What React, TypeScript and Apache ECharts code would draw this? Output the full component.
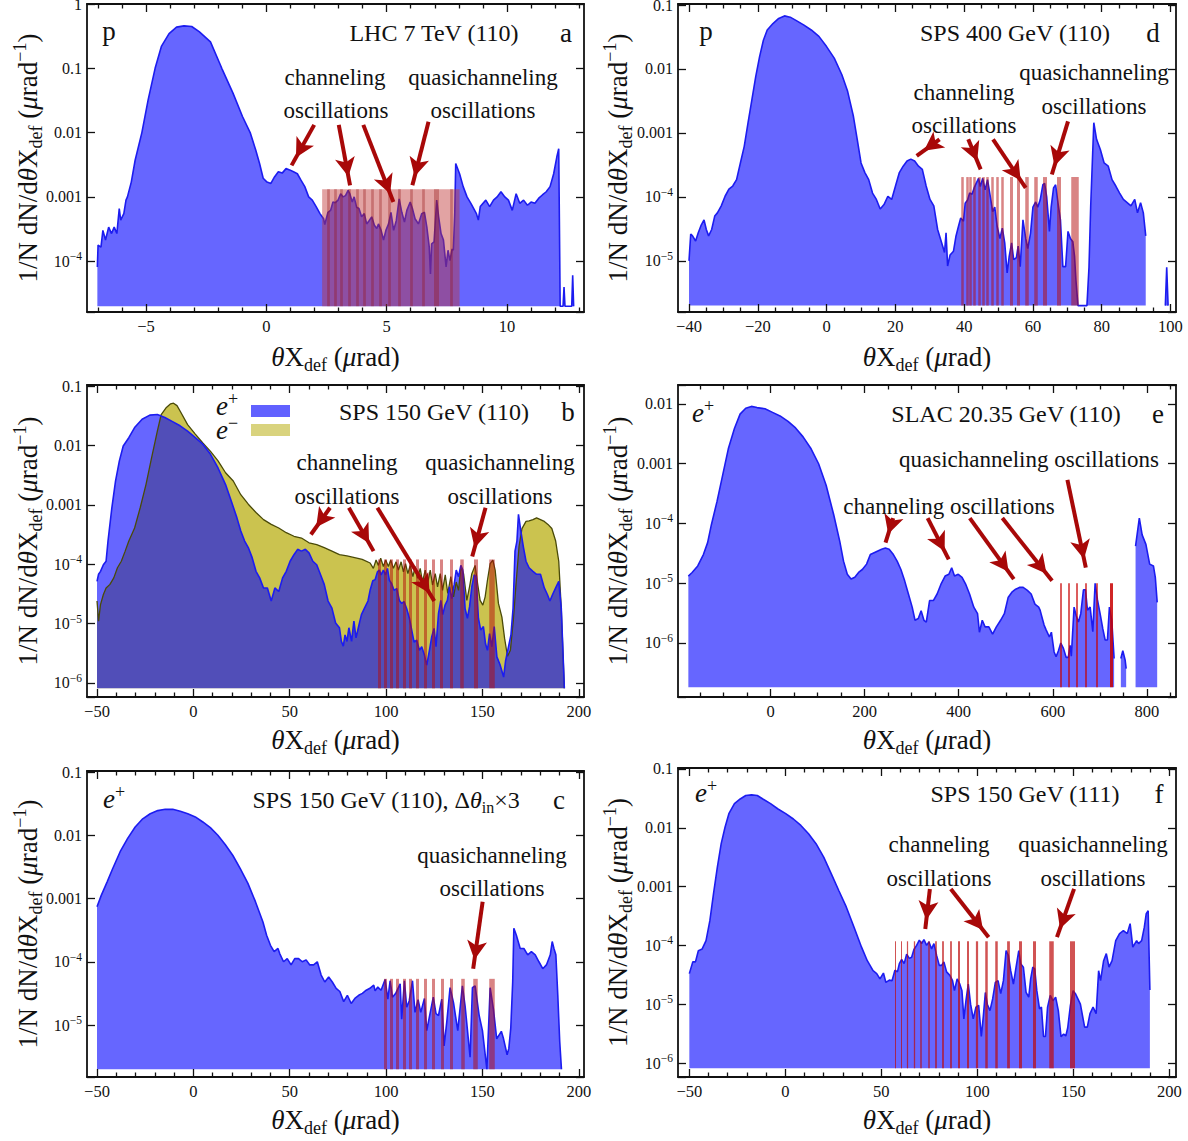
import React, { useEffect, useRef } from 'react';
import * as echarts from 'echarts';

// Each curve: [θX_def (μrad), log10 of 1/N dN/dθX_def (μrad⁻¹)]; null = gap
const lhcCurve = [[-7.02,-4.09],[-6.99,-3.75],[-6.87,-3.78],[-6.79,-3.52],[-6.68,-3.67],[-6.55,-3.47],[-6.43,-3.57],[-6.32,-3.47],[-6.21,-3.57],[-6.11,-3.18],[-6.05,-3.36],[-5.92,-3.26],[-5.83,-3.05],[-5.77,-3.00],[-5.61,-2.77],[-5.45,-2.43],[-5.17,-2.00],[-4.91,-1.49],[-4.62,-1.00],[-4.36,-0.66],[-4.04,-0.46],[-3.73,-0.36],[-3.42,-0.34],[-3.10,-0.35],[-2.79,-0.43],[-2.32,-0.59],[-1.85,-1.00],[-1.38,-1.39],[-0.99,-1.75],[-0.67,-2.00],[-0.44,-2.27],[-0.28,-2.48],[-0.13,-2.71],[0.03,-2.77],[0.19,-2.79],[0.34,-2.69],[0.50,-2.61],[0.66,-2.63],[0.82,-2.56],[0.97,-2.58],[1.13,-2.61],[1.29,-2.64],[1.44,-2.74],[1.60,-2.84],[1.76,-3.00],[1.91,-3.05],[2.07,-3.15],[2.23,-3.26],[2.38,-3.34],[2.43,-3.43],[2.56,-3.24],[2.67,-3.21],[2.77,-3.08],[2.87,-3.09],[2.98,-3.05],[3.09,-2.95],[3.19,-3.00],[3.29,-2.98],[3.40,-2.90],[3.47,-2.95],[3.57,-3.08],[3.65,-3.00],[3.75,-3.16],[3.85,-3.18],[3.96,-3.31],[4.07,-3.26],[4.17,-3.42],[4.27,-3.37],[4.38,-3.31],[4.49,-3.44],[4.59,-3.49],[4.66,-3.42],[4.77,-3.52],[4.87,-3.67],[4.97,-3.52],[5.08,-3.42],[5.18,-3.24],[5.29,-3.52],[5.40,-3.37],[5.52,-3.03],[5.63,-3.24],[5.74,-3.39],[5.84,-3.21],[5.98,-3.08],[6.07,-3.18],[6.18,-3.34],[6.32,-3.42],[6.46,-3.26],[6.57,-3.24],[6.67,-3.47],[6.77,-3.78],[6.82,-4.20],[6.87,-3.73],[6.97,-3.70],[7.08,-3.05],[7.16,-3.31],[7.26,-3.57],[7.36,-3.67],[7.47,-4.09],[7.55,-3.83],[7.63,-3.99],[7.72,-3.81],[7.77,-3.83],[7.83,-3.26],[7.87,-2.48],[8.03,-2.64],[8.18,-2.84],[8.34,-3.00],[8.50,-3.10],[8.73,-3.26],[8.81,-3.36],[8.89,-3.15],[9.12,-3.05],[9.28,-3.15],[9.44,-3.05],[9.59,-3.00],[9.75,-2.92],[9.91,-3.00],[10.06,-3.05],[10.22,-3.21],[10.38,-2.95],[10.53,-3.10],[10.69,-3.05],[10.85,-3.13],[11.00,-3.08],[11.16,-3.10],[11.32,-3.02],[11.47,-2.97],[11.63,-2.92],[11.79,-2.84],[11.94,-2.64],[12.07,-2.38],[12.15,-2.25],[12.21,-4.70],[12.33,-4.70],[12.37,-4.40],[12.41,-4.70],[12.69,-4.70],[12.73,-4.22],[12.77,-4.70]];

const sps400Curve = [[-40,-5.0],[-39.5,-4.58],[-38.98,-4.61],[-38.08,-4.69],[-37.31,-4.56],[-36.53,-4.45],[-35.63,-4.36],[-34.97,-4.51],[-34.30,-4.61],[-33.41,-4.51],[-32.52,-4.30],[-31.74,-4.25],[-30.62,-4.14],[-29.51,-3.99],[-28.40,-3.88],[-27.28,-3.83],[-26.17,-3.73],[-25.06,-3.47],[-23.94,-3.21],[-22.83,-2.84],[-21.71,-2.48],[-20.60,-2.12],[-19.49,-1.81],[-18.37,-1.55],[-17.26,-1.39],[-15.59,-1.29],[-13.92,-1.21],[-12.25,-1.17],[-10.58,-1.19],[-8.91,-1.24],[-6.68,-1.31],[-4.45,-1.39],[-2.23,-1.49],[0,-1.65],[2.23,-1.83],[4.45,-2.09],[6.12,-2.35],[7.80,-2.74],[8.91,-3.10],[10.02,-3.47],[11.14,-3.62],[12.25,-3.73],[13.36,-3.94],[14.48,-4.04],[15.59,-4.19],[16.70,-4.12],[17.82,-3.99],[18.93,-4.04],[20.04,-3.83],[21.16,-3.62],[22.27,-3.52],[23.39,-3.44],[24.50,-3.41],[25.61,-3.44],[26.73,-3.52],[27.84,-3.57],[28.95,-3.83],[30.07,-4.04],[31.18,-4.14],[32.29,-4.51],[33.41,-4.71],[34.30,-4.87],[34.74,-4.56],[35.19,-5.08],[35.9,-4.91],[36.9,-4.85],[37.6,-4.62],[38.3,-4.47],[39.0,-4.33],[39.8,-4.38],[40.3,-4.10],[41.0,-4.05],[41.6,-3.94],[42.3,-3.96],[42.9,-3.86],[43.5,-3.79],[44.2,-3.71],[44.7,-3.84],[45.4,-3.71],[46.1,-3.89],[46.8,-3.73],[47.5,-3.96],[48.3,-4.23],[48.9,-4.16],[49.6,-4.46],[50.4,-4.65],[51.1,-4.49],[51.8,-4.72],[52.5,-5.19],[53.1,-4.93],[53.8,-4.72],[54.4,-4.98],[55.2,-4.95],[55.7,-4.77],[56.3,-5.09],[57.1,-4.36],[57.9,-4.65],[58.5,-4.81],[59.3,-4.57],[60.0,-4.16],[60.8,-4.08],[61.4,-4.16],[62.1,-4.05],[62.9,-3.81],[63.4,-3.79],[64.0,-4.00],[64.8,-4.54],[65.3,-4.16],[66.0,-3.86],[66.6,-3.81],[67.3,-4.10],[68.0,-4.36],[68.7,-5.09],[69.5,-5.09],[70.2,-4.54],[70.9,-4.65],[71.6,-4.70],[72.1,-4.93],[72.5,-5.30],[73.1,-5.70],[75.7,-5.70],[76.3,-5.10],[76.8,-4.14],[77.7,-2.84],[78.5,-3.10],[79.6,-3.26],[80.7,-3.47],[81.9,-3.52],[83.0,-3.73],[84.1,-3.83],[85.2,-3.94],[86.3,-4.04],[87.4,-4.09],[88.5,-4.14],[89.6,-4.04],[90.4,-4.25],[91.3,-4.09],[92.1,-4.25],[92.8,-4.61],[95,null],[98.5,-5.70],[98.9,-5.10],[99.3,-5.70]];

const sps150PositronCurve = [[-50,-4.29],[-49.2,-4.17],[-48.2,-4.12],[-46.7,-4.01],[-45.3,-3.95],[-44.3,-3.61],[-42.3,-3.05],[-40.4,-2.60],[-38.4,-2.26],[-36.4,-2.01],[-33.5,-1.87],[-30.5,-1.70],[-26.6,-1.56],[-22.6,-1.49],[-18.7,-1.48],[-14.8,-1.53],[-10.8,-1.60],[-6.9,-1.67],[-3.0,-1.76],[1.0,-1.87],[4.9,-1.98],[8.9,-2.15],[12.8,-2.38],[16.7,-2.66],[19.7,-2.94],[22.6,-3.22],[24.6,-3.44],[26.6,-3.61],[28.5,-3.72],[30.5,-3.89],[32.5,-4.12],[34.4,-4.23],[36.4,-4.40],[38.4,-4.40],[40.4,-4.62],[42.3,-4.40],[44.3,-4.46],[46.3,-4.23],[48.2,-4.12],[50.2,-3.95],[52.2,-3.84],[54.1,-3.75],[56.1,-3.78],[58.1,-3.75],[60.0,-3.81],[62.0,-3.95],[64.0,-4.01],[65.9,-4.17],[67.9,-4.34],[69.9,-4.62],[71.9,-4.74],[73.8,-4.99],[75.8,-5.07],[76.8,-5.30],[77.8,-5.38],[78.7,-5.19],[79.7,-5.30],[80.7,-5.07],[82.1,-5.30],[83.3,-4.96],[84.4,-5.24],[85.6,-5.07],[87.2,-4.85],[88.8,-4.74],[90.6,-4.62],[91.7,-4.44],[93.1,-4.28],[94.3,-4.26],[95.5,-4.13],[96.5,-4.10],[97.4,-4.18],[98.6,-4.10],[99.7,-4.18],[100.7,-4.07],[101.7,-4.27],[102.9,-4.33],[104.1,-4.44],[105.5,-4.41],[106.9,-4.61],[108.1,-4.66],[109.3,-4.63],[110.7,-4.75],[112.1,-4.91],[113.3,-5.11],[114.5,-5.31],[115.9,-5.28],[117.3,-5.45],[118.5,-5.39],[119.9,-5.53],[121.1,-5.70],[122.5,-5.45],[123.7,-5.22],[124.9,-5.08],[125.9,-5.39],[127.2,-4.83],[128.4,-4.61],[129.4,-4.85],[130.6,-4.69],[131.8,-4.61],[132.9,-4.38],[134.1,-4.58],[135.3,-4.35],[136.4,-4.10],[137.6,-4.21],[138.8,-4.02],[139.8,-4.10],[141.0,-4.75],[142.2,-4.91],[143.3,-4.72],[144.5,-4.38],[145.7,-4.18],[146.7,-4.21],[147.9,-4.91],[149.1,-5.11],[150.5,-5.05],[151.6,-5.34],[152.6,-5.45],[153.7,-5.17],[154.9,-5.39],[156.1,-5.05],[157.5,-5.56],[159.2,-5.70],[161.0,-5.90],[162.0,-5.63],[163.4,-5.41],[164.8,-5.19],[165.9,-4.74],[166.9,-3.78],[167.9,-3.61],[168.7,-3.16],[169.9,-3.44],[171.3,-3.72],[172.6,-3.95],[174.2,-4.06],[176.2,-4.12],[178.1,-4.17],[180.1,-4.17],[182.1,-4.40],[183.7,-4.51],[185.0,-4.62],[186.4,-4.51],[188.0,-4.40],[189.6,-4.29],[190.9,-4.74],[191.9,-5.58],[192.5,-6.09]];

const sps150ElectronCurve = [[-50,-4.62],[-49.2,-4.96],[-48.2,-4.68],[-46.7,-4.51],[-45.3,-4.40],[-43.3,-4.34],[-41.3,-4.23],[-39.4,-4.06],[-37.4,-3.95],[-35.4,-3.78],[-33.5,-3.61],[-30.5,-3.39],[-27.6,-3.05],[-24.6,-2.66],[-21.7,-2.21],[-18.7,-1.76],[-16.7,-1.48],[-14.0,-1.36],[-11.8,-1.30],[-10.3,-1.29],[-8.5,-1.33],[-6.9,-1.42],[-3.0,-1.65],[1.0,-1.81],[4.9,-1.96],[8.9,-2.10],[12.8,-2.26],[16.7,-2.46],[20.7,-2.60],[24.6,-2.83],[28.5,-2.99],[32.5,-3.13],[36.4,-3.25],[40.4,-3.33],[44.3,-3.39],[48.2,-3.47],[52.2,-3.53],[56.1,-3.56],[60.0,-3.64],[64.0,-3.67],[67.9,-3.72],[71.9,-3.78],[75.8,-3.84],[79.7,-3.86],[83.7,-3.89],[87.6,-3.92],[91.7,-3.98],[93.4,-4.07],[94.8,-3.93],[96.0,-4.02],[97.2,-3.90],[98.6,-4.04],[99.8,-3.93],[101.2,-4.04],[102.4,-3.93],[103.8,-4.07],[105.2,-3.96],[106.4,-4.10],[107.8,-3.96],[109.0,-4.13],[110.1,-3.99],[111.3,-4.16],[112.5,-4.02],[113.9,-4.21],[115.1,-4.04],[116.3,-4.24],[117.7,-4.07],[118.9,-4.30],[120.3,-4.10],[121.5,-4.33],[122.9,-4.10],[124.1,-4.35],[125.5,-4.16],[126.7,-4.38],[128.1,-4.16],[129.3,-4.44],[130.7,-4.18],[132.0,-4.49],[133.6,-4.21],[135.0,-4.55],[136.4,-4.30],[137.6,-4.44],[138.8,-4.04],[140.2,-4.16],[141.9,-4.61],[143.3,-4.38],[144.5,-4.16],[146.2,-4.02],[147.5,-4.33],[148.8,-4.61],[150.2,-4.69],[151.4,-4.55],[152.6,-4.27],[154.0,-3.99],[155.4,-3.93],[156.6,-4.10],[158.3,-4.66],[160.1,-4.89],[161.5,-5.25],[163.0,-5.55],[164.5,-5.45],[166.0,-4.95],[167.5,-4.30],[169.0,-3.70],[170.5,-3.40],[172.6,-3.28],[174.2,-3.27],[176.2,-3.25],[178.1,-3.22],[180.1,-3.25],[182.1,-3.28],[184.0,-3.33],[186.0,-3.40],[188.0,-3.61],[189.6,-3.95],[190.9,-4.74],[191.9,-5.58],[192.5,-6.09]];

const sps150WideCurve = [[-50,-3.13],[-47.8,-2.95],[-44.8,-2.74],[-41.9,-2.53],[-38.0,-2.26],[-34.1,-2.05],[-30.2,-1.87],[-26.3,-1.74],[-22.4,-1.66],[-18.5,-1.61],[-14.6,-1.59],[-10.7,-1.59],[-6.8,-1.62],[-2.9,-1.66],[1.0,-1.71],[4.9,-1.79],[8.8,-1.88],[12.7,-2.00],[16.6,-2.15],[20.5,-2.32],[24.4,-2.53],[28.3,-2.76],[32.2,-3.05],[36.1,-3.37],[38.0,-3.58],[40.0,-3.74],[41.9,-3.84],[43.9,-3.79],[44.8,-3.87],[46.8,-4.00],[48.7,-3.95],[50.7,-4.05],[52.6,-3.95],[54.6,-3.95],[56.5,-4.00],[58.5,-3.97],[60.4,-4.05],[62.4,-4.05],[64.3,-4.00],[66.3,-4.21],[68.2,-4.32],[70.2,-4.24],[72.1,-4.32],[74.1,-4.42],[76.0,-4.47],[78.0,-4.63],[79.9,-4.53],[81.9,-4.66],[83.8,-4.58],[85.8,-4.53],[87.7,-4.50],[89.7,-4.45],[91.6,-4.42],[93.6,-4.37],[94.3,-4.46],[95.7,-4.40],[97.4,-4.45],[99.5,-4.28],[100.9,-4.59],[102.1,-4.30],[103.3,-4.56],[105.0,-4.50],[107.3,-4.35],[108.1,-4.91],[109.5,-4.30],[110.7,-4.72],[112.0,-4.62],[113.7,-4.30],[115.0,-4.80],[116.6,-4.60],[118.0,-4.80],[119.9,-4.58],[121.1,-5.09],[122.8,-4.82],[124.5,-4.56],[125.9,-4.82],[127.2,-4.85],[128.9,-4.59],[130.1,-5.33],[131.5,-4.95],[133.2,-4.41],[135.0,-4.65],[137.2,-5.09],[139.6,-4.38],[141.0,-4.70],[143.6,-5.51],[144.8,-4.41],[146.2,-4.38],[148.3,-4.85],[150.0,-5.09],[152.3,-5.70],[154.0,-4.41],[155.7,-4.75],[157.4,-5.22],[159.8,-5.10],[160.8,-5.20],[162.8,-5.47],[163.7,-5.37],[164.7,-5.05],[165.7,-4.32],[166.3,-3.47],[167.6,-3.58],[169.6,-3.79],[171.5,-3.79],[173.5,-3.89],[175.4,-3.84],[177.4,-3.89],[179.3,-4.00],[181.3,-4.11],[183.2,-4.05],[185.2,-3.89],[186.2,-3.68],[187.1,-3.79],[188.1,-3.89],[189.1,-4.53],[190.1,-5.26],[191.0,-5.70]];

const slacCurve = [[-175,-4.88],[-167,-4.82],[-155,-4.71],[-143,-4.52],[-134,-4.32],[-126,-4.02],[-114,-3.63],[-102,-3.19],[-90,-2.75],[-77,-2.41],[-65,-2.17],[-53,-2.07],[-41,-2.04],[-29,-2.06],[-12,-2.08],[4,-2.14],[20,-2.20],[37,-2.29],[53,-2.40],[69,-2.55],[86,-2.75],[102,-3.00],[118,-3.36],[134,-3.85],[147,-4.30],[155,-4.63],[163,-4.85],[171,-4.93],[179,-4.90],[187,-4.82],[195,-4.77],[204,-4.68],[212,-4.52],[220,-4.49],[228,-4.46],[236,-4.43],[244,-4.41],[252,-4.43],[261,-4.52],[269,-4.63],[277,-4.77],[285,-4.96],[293,-5.18],[301,-5.40],[307,-5.62],[314,-5.59],[320,-5.46],[326,-5.62],[331,-5.65],[338,-5.29],[346,-5.29],[354,-5.18],[362,-5.02],[371,-4.88],[379,-4.85],[385,-4.74],[391,-4.88],[399,-4.85],[407,-4.90],[415,-5.02],[423,-5.18],[432,-5.40],[440,-5.51],[444,-5.82],[450,-5.62],[456,-5.73],[464,-5.73],[472,-5.85],[480,-5.73],[489,-5.62],[497,-5.51],[505,-5.24],[513,-5.15],[521,-5.10],[529,-5.07],[537,-5.07],[546,-5.12],[554,-5.18],[562,-5.35],[570,-5.40],[573,-5.45],[578.7,-5.62],[581.5,-5.70],[585.8,-5.78],[592.8,-5.90],[597,-5.82],[602.8,-6.15],[607,-6.23],[612,-6.13],[617,-6.00],[622.6,-6.09],[628.3,-6.24],[633,-6.24],[636.8,-6.04],[639.4,-6.22],[645.3,-5.40],[649.6,-5.54],[654.5,-5.65],[659.5,-5.51],[665.2,-5.11],[669.5,-5.11],[673.7,-5.45],[679.4,-5.40],[685.1,-5.81],[690,-5.00],[695,-5.28],[700.6,-5.51],[706.3,-5.76],[711.3,-5.95],[716.2,-5.95],[720.4,-5.40],[725.4,-5.62],[730.4,-6.26],[738,null],[744.7,-6.26],[748.9,-6.13],[753.9,-6.29],[756,-6.43],[765,null],[776,-4.38],[784,-3.91],[790,-4.19],[798,-4.35],[806,-4.68],[814,-4.71],[818,-4.90],[822,-5.32]];

const sps111Curve = [[-50,-4.48],[-48.2,-4.28],[-46.8,-4.28],[-45.3,-4.09],[-43.3,-4.06],[-41.3,-3.92],[-39.3,-3.58],[-37.4,-3.12],[-35.4,-2.67],[-33.4,-2.27],[-31.4,-1.99],[-29.4,-1.76],[-26.5,-1.59],[-23.5,-1.51],[-20.6,-1.45],[-17.6,-1.44],[-14.6,-1.45],[-11.7,-1.51],[-7.7,-1.59],[-3.8,-1.68],[0.2,-1.76],[4.2,-1.85],[8.1,-1.96],[12.1,-2.10],[16.0,-2.27],[20.0,-2.50],[23.9,-2.78],[27.9,-3.07],[31.8,-3.35],[35.8,-3.69],[39.7,-4.03],[42.7,-4.26],[45.7,-4.43],[47.6,-4.48],[49.3,-4.57],[51.1,-4.47],[52.4,-4.63],[54.2,-4.59],[55.6,-4.60],[57.1,-4.42],[58.4,-4.45],[59.4,-4.31],[60.6,-4.24],[61.9,-4.31],[63.2,-4.15],[64.6,-4.22],[65.8,-4.20],[67.0,-4.07],[68.4,-4.00],[69.8,-3.91],[71.0,-3.97],[72.2,-3.90],[73.6,-4.00],[74.8,-3.94],[76.2,-4.06],[77.4,-3.97],[78.8,-4.17],[80.2,-4.34],[81.4,-4.34],[82.6,-4.28],[84.0,-4.45],[85.7,-4.51],[87.1,-4.60],[88.1,-4.77],[89.5,-4.57],[90.9,-4.66],[92.0,-4.77],[93.0,-5.25],[94.1,-4.94],[95.3,-4.66],[96.5,-5.00],[97.9,-5.25],[99.3,-5.05],[100.7,-5.02],[102.1,-5.55],[103.1,-5.22],[104.2,-4.80],[105.2,-5.00],[106.6,-5.11],[108.0,-4.91],[109.4,-4.63],[110.8,-4.60],[112.2,-4.82],[113.6,-4.60],[115.0,-4.09],[116.2,-4.17],[117.4,-4.43],[118.8,-4.66],[120.2,-4.37],[121.6,-4.09],[122.6,-4.31],[124.0,-4.37],[125.4,-4.80],[126.8,-4.88],[127.8,-4.57],[128.9,-4.37],[129.9,-4.40],[131.0,-4.77],[132.4,-5.08],[133.4,-5.05],[134.5,-5.55],[135.5,-5.55],[136.6,-5.05],[138.0,-4.85],[139.4,-4.94],[140.8,-4.88],[142.2,-5.11],[143.6,-5.55],[145.0,-5.51],[146.1,-5.54],[147.1,-5.40],[148.5,-5.02],[149.9,-4.77],[151.1,-4.82],[152.4,-4.91],[153.7,-5.00],[155.9,-5.39],[157.3,-5.39],[158.7,-5.16],[160.3,-5.05],[161.9,-5.16],[163.2,-4.43],[164.2,-4.60],[165.8,-4.26],[167.2,-4.14],[168.6,-4.37],[170.2,-4.26],[172.1,-3.92],[174.1,-3.80],[176.1,-3.75],[178.1,-3.80],[179.6,-3.63],[181.0,-4.03],[183.0,-3.92],[184.0,-3.97],[185.6,-3.92],[187.0,-3.69],[188.0,-3.46],[189.0,-3.41],[189.9,-4.76]];

// Oscillation marker lines: positions (μrad) and the log10 height they reach
const lhcStripeX = [2.59, 2.87, 3.12, 3.45, 3.78, 4.09, 4.41, 4.75, 5.12, 5.53, 6.02, 6.54, 7.08, 7.68];
const lhcBandX = [2.32, 8.03];
const lhcStripeTop = -2.88;
const sps400StripeX = [39.5, 40.8, 41.9, 43.0, 44.3, 45.6, 46.7, 48.2, 49.6, 51.2, 53.7, 55.7, 58.2, 60.9, 63.5, 67.5, 72.3];
const sps400StripeTop = -3.69;
const sps150StripeX = [96.5, 99.5, 102.6, 105.7, 109.2, 112.6, 116.4, 120.4, 124.4, 128.7, 133.8, 139.5, 146.4, 154.9];
const sps150StripeTop = -3.92;
const sps150WideStripeX = [99.5, 102.6, 105.7, 109.2, 112.6, 116.4, 120.4, 124.6, 129.1, 134.0, 139.9, 146.3, 154.9];
const sps150WideStripeTop = -4.27;
const slacStripeX = [617, 633, 650, 670, 694, 724];
const slacStripeTop = -5.0;
const sps111StripeX = [57.3, 60.4, 63.7, 67.2, 70.8, 74.7, 78.3, 82.1, 86.1, 90.5, 95.2, 99.7, 104.9, 110.1, 116.0, 122.6, 129.9, 138.5, 149.7];
const sps111StripeTop = -3.93;

// Annotation arrows: [[from θ, from log10], [to θ, to log10]]
const lhcArrows = [[[1.99,-1.88],[1.05,-2.51]],[[3.01,-1.88],[3.48,-2.82]],[[4.03,-1.88],[5.28,-3.08]],[[6.74,-1.83],[6.07,-2.82]]];
const sps400Arrows = [[[32.85,-3.10],[26.2,-3.36]],[[41.2,-3.10],[44.8,-3.57]],[[48.4,-3.10],[57.9,-3.86]],[[70.2,-2.82],[65.5,-3.65]]];
const sps150Arrows = [[[70.9,-3.05],[61.0,-3.50]],[[80.7,-3.05],[93.5,-3.78]],[[95.5,-3.05],[125.0,-4.62]],[[151.6,-3.05],[144.7,-3.87]]];
const slacArrows = [[[260.6,-3.91],[244.3,-4.32]],[[333.9,-3.91],[378.7,-4.60]],[[423.5,-3.91],[517.1,-4.93]],[[492.7,-3.91],[598.5,-4.96]],[[631.1,-3.27],[670.2,-4.74]]];
const sps150WideArrows = [[[150.1,-3.05],[145.2,-4.11]]];
const sps111Arrows = [[[75.3,-3.04],[72.9,-3.72]],[[86.2,-3.04],[105.9,-3.86]],[[150.4,-3.04],[141.5,-3.86]]];

// Tick labels
const lhcTicks = [-5, 0, 5, 10];
const lhcMinorTicks = [-7, -6, -4, -3, -2, -1, 1, 2, 3, 4, 6, 7, 8, 9, 11, 12, 13];
const sps400Ticks = [-40, -20, 0, 20, 40, 60, 80, 100];
const sps400MinorTicks = [-35, -30, -25, -15, -10, -5, 5, 10, 15, 25, 30, 35, 45, 50, 55, 65, 70, 75, 85, 90, 95];
const sps150Ticks = [-50, 0, 50, 100, 150, 200];
const sps150MinorTicks = [-40, -30, -20, -10, 10, 20, 30, 40, 60, 70, 80, 90, 110, 120, 130, 140, 160, 170, 180, 190];
const slacTicks = [0, 200, 400, 600, 800];
const slacMinorTicks = [-150, -100, -50, 50, 100, 150, 250, 300, 350, 450, 500, 550, 650, 700, 750, 850];

// ---- styles / layout ----
const FONT = '"Liberation Serif", "Times New Roman", Times, serif';
const INK = '#111111';
const BLUE_LINE = '#1c1cf0';
const BLUE_FILL = 'rgba(0,0,255,0.6)';
const YELLOW_LINE = '#4a4a08';
const YELLOW_FILL = 'rgba(185,175,20,0.75)';
const ARROW = '#a80808';
const ANN = 23;   // annotation font size
const TTL = 24;   // panel title font size

const PANELS = [
  { grid: { left: 87, top: 4, width: 497, height: 308 }, x: [-7.45, 13.2], y: [-4.79, 0], base: -4.70, gapX: 28, gapY: 42,
    curves: [lhcCurve], stripes: lhcStripeX, stripeTop: lhcStripeTop, stripeW: [2.7,2.7,2.7,2.7,2.7,2.7,2.7,2.7,2.7,2.7,2.7,2.7,5,2.7],
    stripeColor: 'rgba(150,20,20,0.35)', band: lhcBandX, arrows: lhcArrows, major: lhcTicks, minor: lhcMinorTicks },
  { grid: { left: 678, top: 4, width: 498, height: 308 }, x: [-43.2, 101.6], y: [-5.80, -0.984], base: -5.70, gapX: 28, gapY: 43,
    curves: [sps400Curve], stripes: sps400StripeX, stripeTop: sps400StripeTop, stripeW: [2.5,2.5,2.5,2.5,2.5,2.5,2.5,2.5,2.5,2.5,3,3,3.5,3.5,4,4,7.5],
    stripeColor: 'rgba(180,10,10,0.5)', band: null, arrows: sps400Arrows, major: sps400Ticks, minor: sps400MinorTicks },
  { grid: { left: 87, top: 385, width: 497, height: 312 }, x: [-55.2, 202.7], y: [-6.236, -0.983], base: -6.09, gapX: 26, gapY: 42,
    curves: [sps150ElectronCurve, sps150PositronCurve], stripes: sps150StripeX, stripeTop: sps150StripeTop, stripeW: [3,3,3,3,3,3,3,3,3,3,3,3.5,4,5.5],
    stripeColor: 'rgba(180,10,10,0.5)', band: null, arrows: sps150Arrows, major: sps150Ticks, minor: sps150MinorTicks },
  { grid: { left: 678, top: 385, width: 498, height: 312 }, x: [-197, 862], y: [-6.904, -1.682], base: -6.74, gapX: 26, gapY: 43,
    curves: [slacCurve], stripes: slacStripeX, stripeTop: slacStripeTop, stripeW: [1.5,1.5,1.5,1.5,1.5,3],
    stripeColor: 'rgba(200,0,0,0.85)', band: null, arrows: slacArrows, major: slacTicks, minor: slacMinorTicks },
  { grid: { left: 87, top: 771, width: 497, height: 306 }, x: [-55.2, 202.7], y: [-5.822, -0.984], base: -5.70, gapX: 26, gapY: 42,
    curves: [sps150WideCurve], stripes: sps150WideStripeX, stripeTop: sps150WideStripeTop, stripeW: [3,3,3,3,3,3,3,3,3,3,3.5,4.5,5.5],
    stripeColor: 'rgba(180,10,10,0.5)', band: null, arrows: sps150WideArrows, major: sps150Ticks, minor: sps150MinorTicks },
  { grid: { left: 678, top: 768, width: 498, height: 309 }, x: [-55.9, 203.5], y: [-6.238, -0.983], base: -6.09, gapX: 26, gapY: 43,
    curves: [sps111Curve], stripes: sps111StripeX, stripeTop: sps111StripeTop, stripeW: [1,1,1.2,1.3,1.5,1.5,1.7,1.8,1.8,2,2,2.2,2.5,2.5,2.8,3,3,4.5,5],
    stripeColor: 'rgba(190,10,10,0.7)', band: null, arrows: sps111Arrows, major: sps150Ticks, minor: sps150MinorTicks },
];

const pow10 = (l: number) => Math.pow(10, l);

const nameStyle = {
  fontFamily: FONT, fontSize: 27, color: INK, lineHeight: 34,
  rich: {
    n: { fontFamily: FONT, fontSize: 27, color: INK, lineHeight: 34 },
    i: { fontFamily: FONT, fontSize: 27, color: INK, lineHeight: 34, fontStyle: 'italic' },
    sub: { fontFamily: FONT, fontSize: 18, color: INK, lineHeight: 18, verticalAlign: 'bottom' },
    sup: { fontFamily: FONT, fontSize: 18, color: INK, lineHeight: 18, verticalAlign: 'top' },
  },
};
const X_NAME = '{i|θ}{n|X}{sub|def}{n| (}{i|μ}{n|rad)}';
const Y_NAME = '{n|1/N dN/d}{i|θ}{n|X}{sub|def}{n| (}{i|μ}{n|rad}{sup|−1}{n|)}';

const fmtX = (v: number) => (v < 0 ? '\u2212' + Math.abs(v) : String(v));
const fmtY = (v: number) => {
  const e = Math.log10(v);
  const n = Math.round(e);
  if (Math.abs(e - n) > 1e-6) return '';
  if (n === 0) return '1';
  if (n >= -3) return '0.' + '0'.repeat(-n - 1) + '1';
  return '{b|10}{sup|\u2212' + -n + '}';
};

const lineAxis = { show: true, onZero: false, lineStyle: { color: INK, width: 1.8 } };
const tickStyle = { color: INK, width: 1.3 };

function gRich(size: number) {
  const s = Math.round(size * 0.65);
  return {
    n: { fontFamily: FONT, fontSize: size, fill: INK, lineHeight: size + 6 },
    i: { fontFamily: FONT, fontSize: size, fill: INK, fontStyle: 'italic', lineHeight: size + 6 },
    sub: { fontFamily: FONT, fontSize: s, fill: INK, lineHeight: s, verticalAlign: 'bottom' },
    sup: { fontFamily: FONT, fontSize: s, fill: INK, lineHeight: s, verticalAlign: 'top' },
  };
}
function label(x: number, y: number, text: string, size = ANN) {
  return {
    type: 'text', x, y, z: 20, silent: true,
    style: { text, fontFamily: FONT, fontSize: size, fill: INK, align: 'center', verticalAlign: 'middle',
      textAlign: 'center', textVerticalAlign: 'middle', rich: gRich(size) },
  };
}

function buildOption() {
  const grid: any[] = [];
  const xAxis: any[] = [];
  const yAxis: any[] = [];
  const series: any[] = [];
  PANELS.forEach((p, gi) => {
    grid.push({ ...p.grid, containLabel: false, outerBoundsMode: 'none', show: false });
    const common = { type: 'value', gridIndex: gi, min: p.x[0], max: p.x[1], splitLine: { show: false }, z: 3 };
    xAxis.push({
      ...common, position: 'bottom', axisLine: lineAxis,
      axisTick: { show: true, inside: true, length: 8, customValues: p.major, lineStyle: tickStyle },
      axisLabel: { show: true, customValues: p.major, formatter: fmtX, fontFamily: FONT, fontSize: 16.5, color: INK, margin: 6 },
      name: X_NAME, nameLocation: 'middle', nameGap: p.gapX, nameTextStyle: nameStyle, nameMoveOverlap: false,
    });
    xAxis.push({ ...common, position: 'bottom', axisLine: { show: false },
      axisTick: { show: true, inside: true, length: 4.5, customValues: p.minor, lineStyle: tickStyle }, axisLabel: { show: false } });
    xAxis.push({ ...common, position: 'top', axisLine: lineAxis,
      axisTick: { show: true, inside: true, length: 8, customValues: p.major, lineStyle: tickStyle }, axisLabel: { show: false } });
    xAxis.push({ ...common, position: 'top', axisLine: { show: false },
      axisTick: { show: true, inside: true, length: 4.5, customValues: p.minor, lineStyle: tickStyle }, axisLabel: { show: false } });
    const ycommon = { type: 'log', logBase: 10, gridIndex: gi, min: pow10(p.y[0]), max: pow10(p.y[1]), splitLine: { show: false }, z: 3 };
    yAxis.push({
      ...ycommon, position: 'left', axisLine: lineAxis,
      axisTick: { show: true, inside: true, length: 8, lineStyle: tickStyle },
      axisLabel: { formatter: fmtY, fontFamily: FONT, fontSize: 16, color: INK, margin: 5,
        rich: { b: { fontFamily: FONT, fontSize: 16, color: INK, lineHeight: 22 },
          sup: { fontFamily: FONT, fontSize: 11.5, color: INK, lineHeight: 12, verticalAlign: 'top' } } },
      name: Y_NAME, nameLocation: 'middle', nameGap: p.gapY, nameTextStyle: nameStyle, nameMoveOverlap: false,
    });
    yAxis.push({ ...ycommon, position: 'right', axisLine: lineAxis,
      axisTick: { show: true, inside: true, length: 8, lineStyle: tickStyle }, axisLabel: { show: false } });

    const baseV = pow10(p.base);
    const stripeLines = p.stripes.map((x, i) => [
      { coord: [x, baseV], symbol: 'none', lineStyle: { color: p.stripeColor, width: p.stripeW[i], type: 'solid' } },
      { coord: [x, pow10(p.stripeTop)], symbol: 'none' },
    ]);
    const arrowLines = p.arrows.map(([[x0, l0], [x1, l1]]) => [
      { coord: [x0, pow10(l0)], symbol: 'none', lineStyle: { color: ARROW, width: 4, type: 'solid' } },
      { coord: [x1, pow10(l1)], symbol: 'arrow', symbolSize: [15, 19], symbolOffset: [0, 9] },
    ]);

    p.curves.forEach((c, ci) => {
      const isLast = ci === p.curves.length - 1;
      const yellow = p.curves.length > 1 && ci === 0;
      const s: any = {
        type: 'line', name: yellow ? 'e−' : (p.curves.length > 1 ? 'e+' : 'p' + gi),
        xAxisIndex: gi * 4, yAxisIndex: gi * 2,
        data: c.map(([x, l]) => [x, l === null ? '-' : pow10(l as number)]),
        showSymbol: false, symbol: 'none', connectNulls: false, smooth: false, z: 2,
        lineStyle: { color: yellow ? YELLOW_LINE : BLUE_LINE, width: yellow ? 1.3 : 1.6 },
        itemStyle: { color: yellow ? YELLOW_LINE : BLUE_LINE },
        areaStyle: { color: yellow ? YELLOW_FILL : BLUE_FILL, origin: baseV, opacity: 1 },
        emphasis: { disabled: true }, silent: true,
      };
      if (isLast) {
        s.markLine = { silent: true, animation: false, symbol: ['none', 'none'], label: { show: false },
          emphasis: { disabled: true }, data: [...stripeLines, ...arrowLines] };
        if (p.band) {
          s.markArea = { silent: true, animation: false, z: 4, label: { show: false },
            itemStyle: { color: 'rgba(190,50,50,0.45)' }, emphasis: { disabled: true },
            data: [[{ coord: [p.band[0], baseV] }, { coord: [p.band[1], pow10(p.stripeTop)] }]] };
        }
      }
      series.push(s);
    });
  });

  const graphic: any[] = [
    // a
    label(109, 31, 'p', 27), label(434, 33, 'LHC 7 TeV (110)', TTL), label(566, 33, 'a', 27),
    label(335, 77, 'channeling'), label(336, 110, 'oscillations'), label(483, 77, 'quasichanneling'), label(483, 110, 'oscillations'),
    // d
    label(706, 31, 'p', 27), label(1015, 33, 'SPS 400 GeV (110)', TTL), label(1153, 33, 'd', 27),
    label(964, 92, 'channeling'), label(964, 125, 'oscillations'), label(1094, 72, 'quasichanneling'), label(1094, 106, 'oscillations'),
    // b
    label(227, 406, '{i|e}{sup|+}', 27), label(227, 430, '{i|e}{sup|\u2212}', 27),
    { type: 'rect', z: 20, silent: true, shape: { x: 251, y: 405, width: 39, height: 12 }, style: { fill: 'rgba(0,0,255,0.62)' } },
    { type: 'rect', z: 20, silent: true, shape: { x: 251, y: 424, width: 39, height: 12 }, style: { fill: 'rgba(185,175,20,0.55)' } },
    label(434, 412, 'SPS 150 GeV (110)', TTL), label(568, 412, 'b', 27),
    label(347, 462, 'channeling'), label(347, 496, 'oscillations'), label(500, 462, 'quasichanneling'), label(500, 496, 'oscillations'),
    // e
    label(703, 413, '{i|e}{sup|+}', 27), label(1006, 414, 'SLAC 20.35 GeV (110)', TTL), label(1158, 414, 'e', 27),
    label(1029, 459, 'quasichanneling oscillations'), label(949, 506, 'channeling oscillations'),
    // c
    label(114, 799, '{i|e}{sup|+}', 27), label(386, 800, '{n|SPS 150 GeV (110), Δ}{i|θ}{sub|in}{n|×3}', TTL), label(559, 800, 'c', 27),
    label(492, 855, 'quasichanneling'), label(492, 888, 'oscillations'),
    // f
    label(706, 793, '{i|e}{sup|+}', 27), label(1025, 794, 'SPS 150 GeV (111)', TTL), label(1159, 794, 'f', 27),
    label(939, 844, 'channeling'), label(939, 878, 'oscillations'), label(1093, 844, 'quasichanneling'), label(1093, 878, 'oscillations'),
  ];

  return {
    animation: false,
    backgroundColor: '#ffffff',
    textStyle: { fontFamily: FONT },
    grid, xAxis, yAxis, series, graphic,
  };
}

export default function App() {
  const ref = useRef<HTMLDivElement>(null);
  useEffect(() => {
    if (!ref.current) return;
    const chart = echarts.init(ref.current, undefined, { renderer: 'svg' });
    chart.setOption(buildOption() as any);
    return () => chart.dispose();
  }, []);
  return <div ref={ref} style={{ position: 'absolute', left: 0, top: 0, width: 1188, height: 1141, background: '#fff' }} />;
}
